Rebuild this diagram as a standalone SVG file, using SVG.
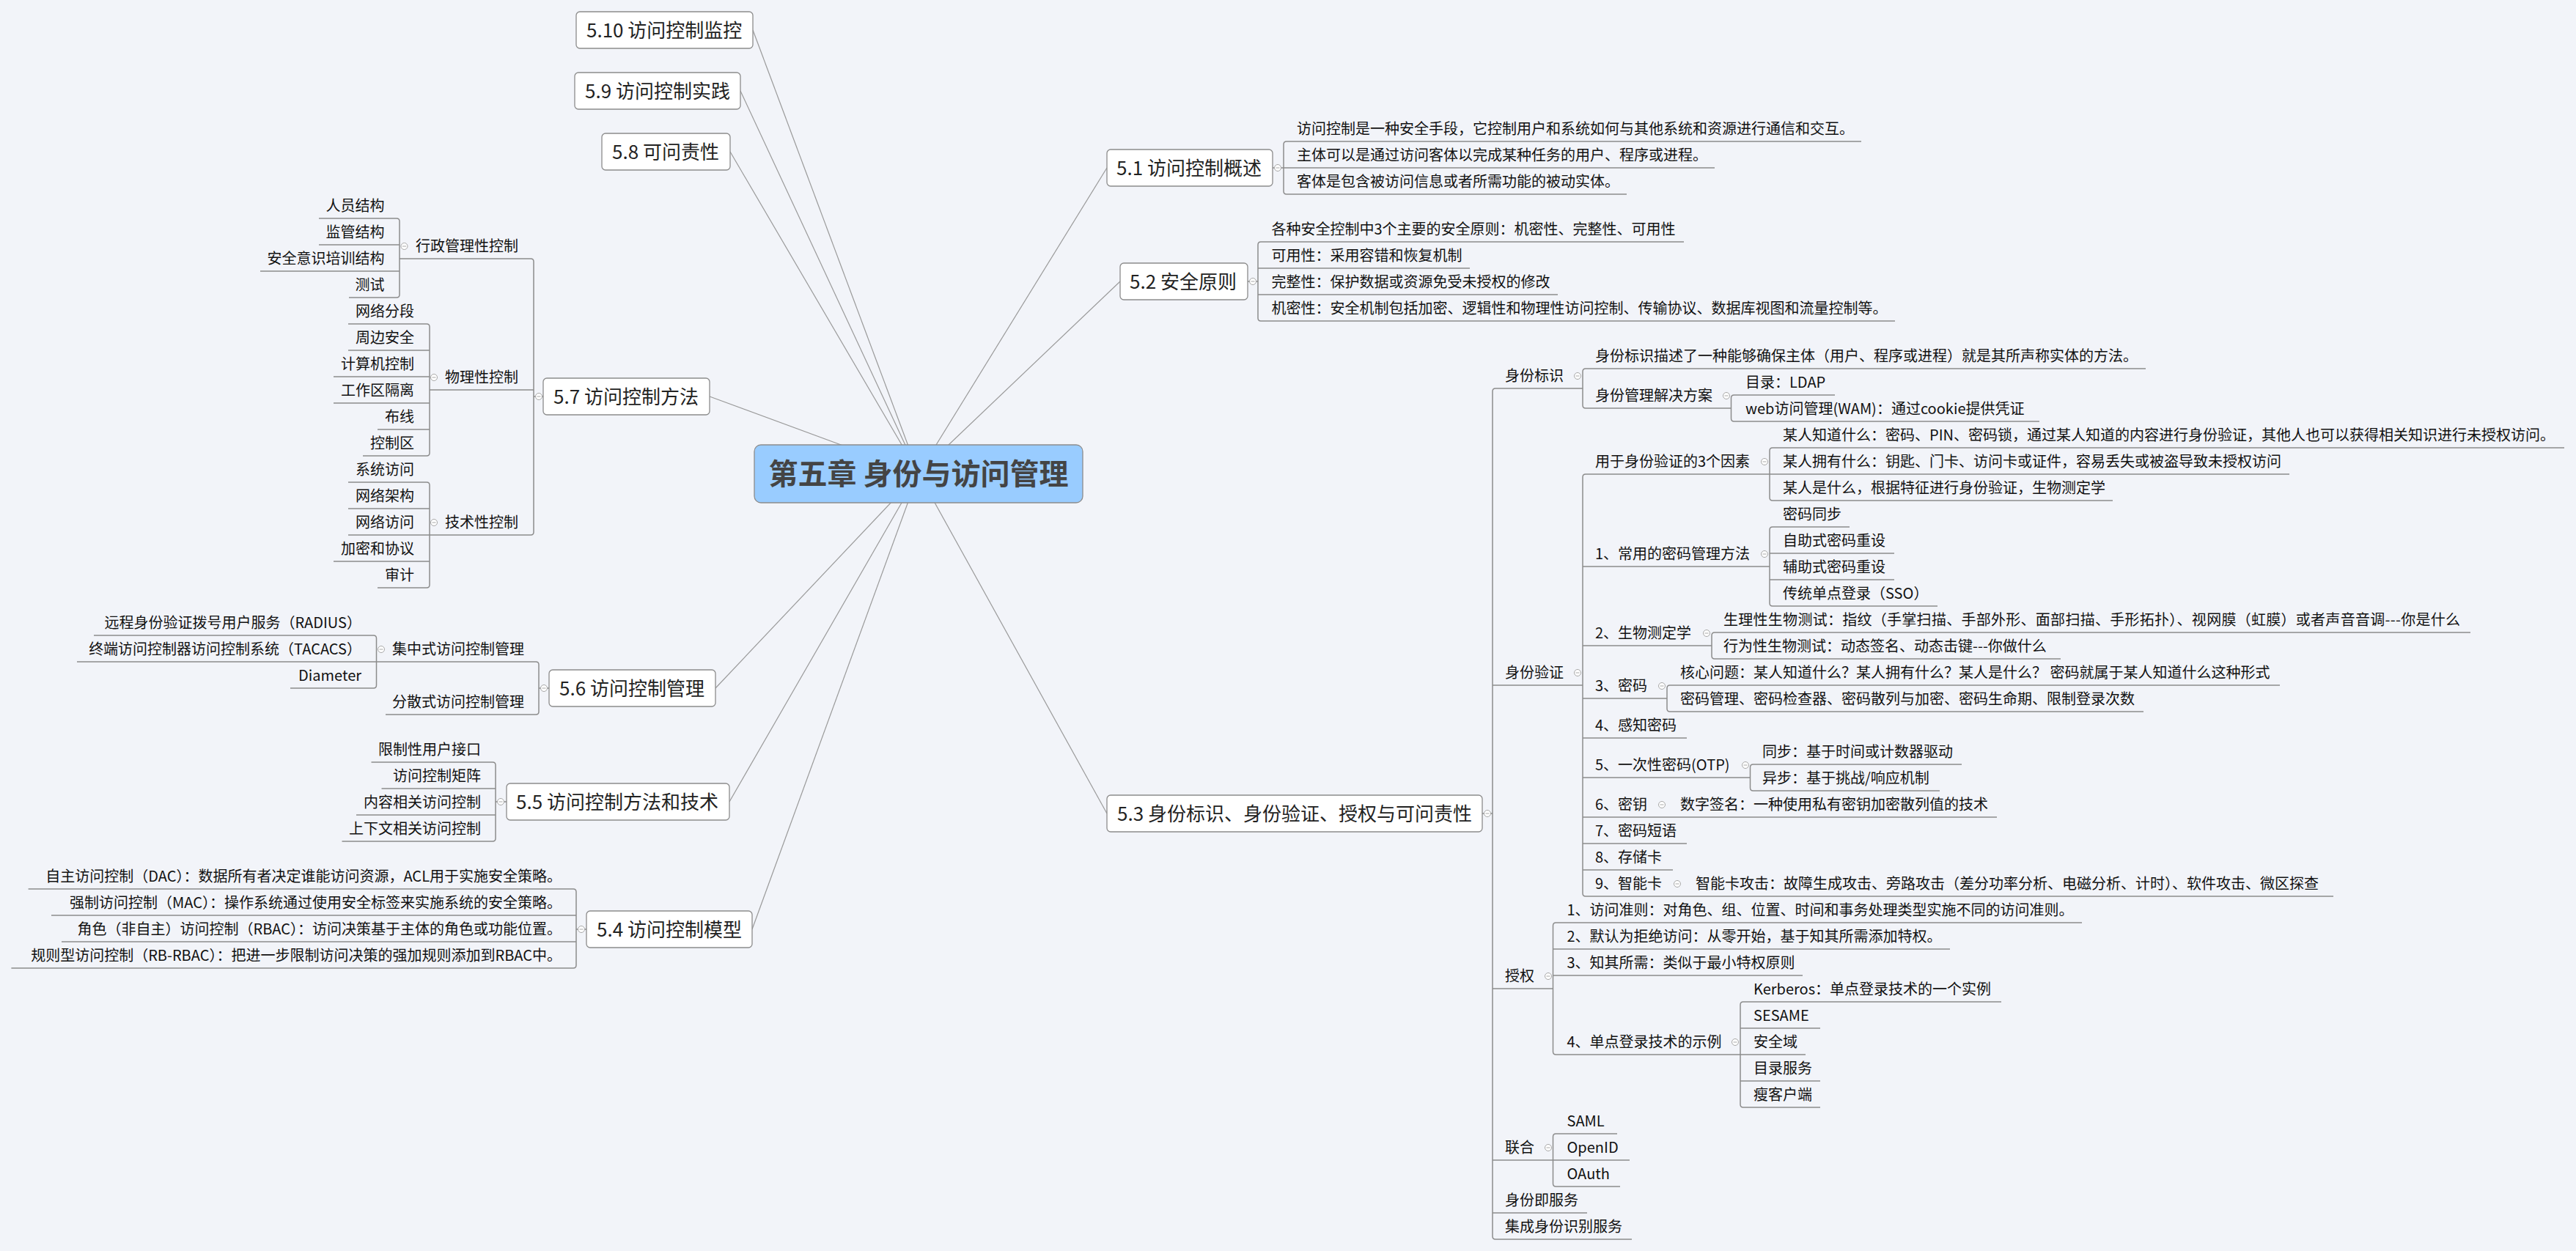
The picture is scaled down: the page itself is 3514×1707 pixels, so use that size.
<svg xmlns="http://www.w3.org/2000/svg" xmlns:xlink="http://www.w3.org/1999/xlink" width="3514" height="1707" viewBox="0 0 3514 1707">
<style>
text{font-family:"Noto Sans CJK SC","Noto Sans",sans-serif;}
.root{font-size:40px;font-weight:bold;fill:#444;text-anchor:middle}
.n1{font-size:26px;fill:#222}
.t{font-size:20px;fill:#111}
.e{text-anchor:end}
.box{fill:#fff;stroke:#8c8c8c;stroke-width:1.3}
.tree{fill:none;stroke:#8c8c8c;stroke-width:1.5}
.link{stroke:#9a9a9a;stroke-width:1.2;fill:none}
</style>
<defs>
<g id="col"><circle r="4.5" fill="#fff" stroke="#a8a8a8" stroke-width="1"/><path d="M-2.5 0H2.5" stroke="#a8a8a8" stroke-width="1"/></g>
</defs>
<rect width="3514" height="1707" fill="#f2f4f9"/>

<g id="connectors">
<g class="link">
<line x1="1253" y1="646" x2="1027" y2="41"/>
<line x1="1253" y1="646" x2="1010" y2="124"/>
<line x1="1253" y1="646" x2="996" y2="207"/>
<line x1="1253" y1="646" x2="968" y2="541"/>
<line x1="1253" y1="646" x2="976" y2="939"/>
<line x1="1253" y1="646" x2="995" y2="1094"/>
<line x1="1253" y1="646" x2="1026" y2="1268"/>
<line x1="1253" y1="646" x2="1510" y2="229"/>
<line x1="1253" y1="646" x2="1528" y2="384"/>
<line x1="1253" y1="646" x2="1510" y2="1110"/>
</g>
<g class="tree">
<path d="M741 541H728 M545 353H724Q728 353 728 357V726Q728 730 724 730H586 M728 532H586"/>
<path d="M435 298H541Q545 298 545 302V402Q545 406 541 406H476 M545 334H435 M545 370H355"/>
<path d="M475 442H582Q586 442 586 446V618Q586 622 582 622H495 M586 478H475 M586 514H455 M586 550H455 M586 586H515"/>
<path d="M475 658H582Q586 658 586 662V798Q586 802 582 802H515 M586 694H475 M586 730H475 M586 766H455"/>
<path d="M749 939H735 M513.5 903H731Q735 903 735 907V971Q735 975 731 975H526"/>
<path d="M128 867H509.5Q513.5 867 513.5 871V935Q513.5 939 509.5 939H396 M513.5 903H105"/>
<path d="M691 1094H676 M506.5 1040H672Q676 1040 676 1044V1144Q676 1148 672 1148H466.5 M676 1076H520.5 M676 1112H486"/>
<path d="M800 1268H786 M38.6 1213H782Q786 1213 786 1217V1317Q786 1321 782 1321H15.4 M786 1249H70 M786 1285H84"/>
<path d="M1736 229H1751 M2539 193H1755Q1751 193 1751 197V261Q1751 265 1755 265H2219 M1751 229H2339"/>
<path d="M1702 384H1716 M2297 330H1720Q1716 330 1716 334V434Q1716 438 1720 438H2585 M1716 366H2005 M1716 402H2125"/>
<path d="M2022 1110H2036 M2159 530H2040Q2036 530 2036 534V1687Q2036 1691 2040 1691H2226 M2036 935H2159 M2036 1349H2118.5 M2036 1583H2118.5 M2036 1655H2165"/>
<path d="M2927 503H2163Q2159 503 2159 507V553Q2159 557 2163 557H2361.5"/>
<path d="M2503 539H2365.5Q2361.5 539 2361.5 543V571Q2361.5 575 2365.5 575H2782"/>
<path d="M2414 647H2163Q2159 647 2159 651V1219Q2159 1223 2163 1223H3183 M2159 773H2414 M2159 881H2335 M2159 953H2274 M2159 1007H2301 M2159 1061H2387.5 M2159 1115H2724 M2159 1151H2301 M2159 1187H2282"/>
<path d="M3498 611H2418Q2414 611 2414 615V679Q2414 683 2418 683H2882 M2414 647H3123"/>
<path d="M2523 719H2418Q2414 719 2414 723V823Q2414 827 2418 827H2643 M2414 755H2584 M2414 791H2584"/>
<path d="M3370 863H2339Q2335 863 2335 867V895Q2335 899 2339 899H2811"/>
<path d="M3110 935H2278Q2274 935 2274 939V967Q2274 971 2278 971H2924"/>
<path d="M2676 1043H2391.5Q2387.5 1043 2387.5 1047V1075Q2387.5 1079 2391.5 1079H2646"/>
<path d="M2840 1259H2122.5Q2118.5 1259 2118.5 1263V1435Q2118.5 1439 2122.5 1439H2374 M2118.5 1295H2660 M2118.5 1331H2459"/>
<path d="M2730 1367H2378Q2374 1367 2374 1371V1507Q2374 1511 2378 1511H2483 M2374 1403H2483 M2374 1439H2463 M2374 1475H2483"/>
<path d="M2206 1547H2122.5Q2118.5 1547 2118.5 1551V1615Q2118.5 1619 2122.5 1619H2210 M2118.5 1583H2223"/>
</g>
<g id="collapse-icons">
<use xlink:href="#col" x="735" y="541"/>
<use xlink:href="#col" x="551.5" y="336"/>
<use xlink:href="#col" x="592" y="515"/>
<use xlink:href="#col" x="592" y="713"/>
<use xlink:href="#col" x="742" y="939"/>
<use xlink:href="#col" x="520" y="886"/>
<use xlink:href="#col" x="683" y="1094"/>
<use xlink:href="#col" x="793" y="1268"/>
<use xlink:href="#col" x="1743" y="229"/>
<use xlink:href="#col" x="1709" y="384"/>
<use xlink:href="#col" x="2029" y="1110"/>
<use xlink:href="#col" x="2152" y="513"/>
<use xlink:href="#col" x="2355" y="540"/>
<use xlink:href="#col" x="2152" y="918"/>
<use xlink:href="#col" x="2407" y="630"/>
<use xlink:href="#col" x="2407" y="756"/>
<use xlink:href="#col" x="2328" y="864"/>
<use xlink:href="#col" x="2267" y="936"/>
<use xlink:href="#col" x="2381" y="1044"/>
<use xlink:href="#col" x="2267" y="1098"/>
<use xlink:href="#col" x="2288" y="1206"/>
<use xlink:href="#col" x="2112" y="1332"/>
<use xlink:href="#col" x="2367" y="1422"/>
<use xlink:href="#col" x="2112" y="1566"/>
</g>
</g>

<g id="root"><rect x="1029" y="607" width="448" height="79" rx="9" fill="#99ccff" stroke="#8c8c8c" stroke-width="1.3"/><text class="root" x="1253" y="661">第五章 身份与访问管理</text></g>

<g id="n5-10"><rect class="box" x="786" y="16" width="241" height="50" rx="5"/><text class="n1" x="800" y="51">5.10 访问控制监控</text></g>
<g id="n5-9"><rect class="box" x="784" y="99" width="226" height="50" rx="5"/><text class="n1" x="798" y="134">5.9 访问控制实践</text></g>
<g id="n5-8"><rect class="box" x="821" y="182" width="175" height="50" rx="5"/><text class="n1" x="835" y="217">5.8 可问责性</text></g>
<g id="n5-7"><rect class="box" x="741" y="516" width="227" height="50" rx="5"/><text class="n1" x="755" y="551">5.7 访问控制方法</text></g>
<g id="n5-6"><rect class="box" x="749" y="914" width="227" height="50" rx="5"/><text class="n1" x="763" y="949">5.6 访问控制管理</text></g>
<g id="n5-5"><rect class="box" x="691" y="1069" width="304" height="50" rx="5"/><text class="n1" x="704" y="1104">5.5 访问控制方法和技术</text></g>
<g id="n5-4"><rect class="box" x="800" y="1243" width="226" height="50" rx="5"/><text class="n1" x="814" y="1278">5.4 访问控制模型</text></g>
<g id="n5-1"><rect class="box" x="1510" y="204" width="226" height="50" rx="5"/><text class="n1" x="1523" y="239">5.1 访问控制概述</text></g>
<g id="n5-2"><rect class="box" x="1528" y="359" width="174" height="50" rx="5"/><text class="n1" x="1541" y="394">5.2 安全原则</text></g>
<g id="n5-3"><rect class="box" x="1510" y="1085" width="512" height="50" rx="5"/><text class="n1" x="1524" y="1120">5.3 身份标识、身份验证、授权与可问责性</text></g>

<g id="n57-admin"><text class="t e" x="707" y="343">行政管理性控制</text></g>
<g id="n57-phys"><text class="t e" x="707" y="522">物理性控制</text></g>
<g id="n57-tech"><text class="t e" x="707" y="720">技术性控制</text></g>
<g id="n57-a1"><text class="t e" x="524.5" y="288">人员结构</text></g>
<g id="n57-a2"><text class="t e" x="524.5" y="324">监管结构</text></g>
<g id="n57-a3"><text class="t e" x="524.5" y="360">安全意识培训结构</text></g>
<g id="n57-a4"><text class="t e" x="524.5" y="396">测试</text></g>
<g id="n57-p1"><text class="t e" x="565" y="432">网络分段</text></g>
<g id="n57-p2"><text class="t e" x="565" y="468">周边安全</text></g>
<g id="n57-p3"><text class="t e" x="565" y="504">计算机控制</text></g>
<g id="n57-p4"><text class="t e" x="565" y="540">工作区隔离</text></g>
<g id="n57-p5"><text class="t e" x="565" y="576">布线</text></g>
<g id="n57-p6"><text class="t e" x="565" y="612">控制区</text></g>
<g id="n57-t1"><text class="t e" x="565" y="648">系统访问</text></g>
<g id="n57-t2"><text class="t e" x="565" y="684">网络架构</text></g>
<g id="n57-t3"><text class="t e" x="565" y="720">网络访问</text></g>
<g id="n57-t4"><text class="t e" x="565" y="756">加密和协议</text></g>
<g id="n57-t5"><text class="t e" x="565" y="792">审计</text></g>

<g id="n56-c"><text class="t e" x="715" y="893">集中式访问控制管理</text></g>
<g id="n56-d"><text class="t e" x="715" y="965">分散式访问控制管理</text></g>
<g id="n56-c1"><text class="t e" x="493" y="857">远程身份验证拨号用户服务（RADIUS）</text></g>
<g id="n56-c2"><text class="t e" x="493" y="893">终端访问控制器访问控制系统（TACACS）</text></g>
<g id="n56-c3"><text class="t e" x="493" y="929">Diameter</text></g>

<g id="n55-1"><text class="t e" x="656" y="1030">限制性用户接口</text></g>
<g id="n55-2"><text class="t e" x="656" y="1066">访问控制矩阵</text></g>
<g id="n55-3"><text class="t e" x="656" y="1102">内容相关访问控制</text></g>
<g id="n55-4"><text class="t e" x="656" y="1138">上下文相关访问控制</text></g>

<g id="n54-1"><text class="t e" x="766" y="1203">自主访问控制（DAC）：数据所有者决定谁能访问资源，ACL用于实施安全策略。</text></g>
<g id="n54-2"><text class="t e" x="766" y="1239">强制访问控制（MAC）：操作系统通过使用安全标签来实施系统的安全策略。</text></g>
<g id="n54-3"><text class="t e" x="766" y="1275">角色（非自主）访问控制（RBAC）：访问决策基于主体的角色或功能位置。</text></g>
<g id="n54-4"><text class="t e" x="766" y="1311">规则型访问控制（RB-RBAC）：把进一步限制访问决策的强加规则添加到RBAC中。</text></g>

<g id="n51-1"><text class="t" x="1769" y="183">访问控制是一种安全手段，它控制用户和系统如何与其他系统和资源进行通信和交互。</text></g>
<g id="n51-2"><text class="t" x="1769" y="219">主体可以是通过访问客体以完成某种任务的用户、程序或进程。</text></g>
<g id="n51-3"><text class="t" x="1769" y="255">客体是包含被访问信息或者所需功能的被动实体。</text></g>

<g id="n52-1"><text class="t" x="1734.5" y="320">各种安全控制中3个主要的安全原则：机密性、完整性、可用性</text></g>
<g id="n52-2"><text class="t" x="1734.5" y="356">可用性：采用容错和恢复机制</text></g>
<g id="n52-3"><text class="t" x="1734.5" y="392">完整性：保护数据或资源免受未授权的修改</text></g>
<g id="n52-4"><text class="t" x="1734.5" y="428">机密性：安全机制包括加密、逻辑性和物理性访问控制、传输协议、数据库视图和流量控制等。</text></g>

<g id="n53-id"><text class="t" x="2053" y="520">身份标识</text></g>
<g id="n53-auth"><text class="t" x="2053" y="925">身份验证</text></g>
<g id="n53-authz"><text class="t" x="2053" y="1339">授权</text></g>
<g id="n53-fed"><text class="t" x="2053" y="1573">联合</text></g>
<g id="n53-idaas"><text class="t" x="2053" y="1645">身份即服务</text></g>
<g id="n53-iis"><text class="t" x="2053" y="1681">集成身份识别服务</text></g>

<g id="n53-id1"><text class="t" x="2176" y="493">身份标识描述了一种能够确保主体（用户、程序或进程）就是其所声称实体的方法。</text></g>
<g id="n53-id2"><text class="t" x="2176" y="547">身份管理解决方案</text></g>
<g id="n53-id2a"><text class="t" x="2381" y="529">目录：LDAP</text></g>
<g id="n53-id2b"><text class="t" x="2381" y="565">web访问管理(WAM)：通过cookie提供凭证</text></g>

<g id="n53-f"><text class="t" x="2176" y="637">用于身份验证的3个因素</text></g>
<g id="n53-f1"><text class="t" x="2432" y="601">某人知道什么：密码、PIN、密码锁，通过某人知道的内容进行身份验证，其他人也可以获得相关知识进行未授权访问。</text></g>
<g id="n53-f2"><text class="t" x="2432" y="637">某人拥有什么：钥匙、门卡、访问卡或证件，容易丢失或被盗导致未授权访问</text></g>
<g id="n53-f3"><text class="t" x="2432" y="673">某人是什么，根据特征进行身份验证，生物测定学</text></g>
<g id="n53-a1"><text class="t" x="2176" y="763">1、常用的密码管理方法</text></g>
<g id="n53-a1a"><text class="t" x="2432" y="709">密码同步</text></g>
<g id="n53-a1b"><text class="t" x="2432" y="745">自助式密码重设</text></g>
<g id="n53-a1c"><text class="t" x="2432" y="781">辅助式密码重设</text></g>
<g id="n53-a1d"><text class="t" x="2432" y="817">传统单点登录（SSO）</text></g>
<g id="n53-a2"><text class="t" x="2176" y="871">2、生物测定学</text></g>
<g id="n53-a2a"><text class="t" x="2351" y="853" textLength="1005" lengthAdjust="spacing">生理性生物测试：指纹（手掌扫描、手部外形、面部扫描、手形拓扑）、视网膜（虹膜）或者声音音调---你是什么</text></g>
<g id="n53-a2b"><text class="t" x="2351" y="889">行为性生物测试：动态签名、动态击键---你做什么</text></g>
<g id="n53-a3"><text class="t" x="2176" y="943">3、密码</text></g>
<g id="n53-a3a"><text class="t" x="2292" y="925">核心问题：某人知道什么？某人拥有什么？某人是什么？ 密码就属于某人知道什么这种形式</text></g>
<g id="n53-a3b"><text class="t" x="2292" y="961">密码管理、密码检查器、密码散列与加密、密码生命期、限制登录次数</text></g>
<g id="n53-a4"><text class="t" x="2176" y="997">4、感知密码</text></g>
<g id="n53-a5"><text class="t" x="2176" y="1051">5、一次性密码(OTP)</text></g>
<g id="n53-a5a"><text class="t" x="2404" y="1033">同步：基于时间或计数器驱动</text></g>
<g id="n53-a5b"><text class="t" x="2404" y="1069">异步：基于挑战/响应机制</text></g>
<g id="n53-a6"><text class="t" x="2176" y="1105">6、密钥</text></g>
<g id="n53-a6a"><text class="t" x="2292" y="1105">数字签名：一种使用私有密钥加密散列值的技术</text></g>
<g id="n53-a7"><text class="t" x="2176" y="1141">7、密码短语</text></g>
<g id="n53-a8"><text class="t" x="2176" y="1177">8、存储卡</text></g>
<g id="n53-a9"><text class="t" x="2176" y="1213">9、智能卡</text></g>
<g id="n53-a9a"><text class="t" x="2313" y="1213">智能卡攻击：故障生成攻击、旁路攻击（差分功率分析、电磁分析、计时）、软件攻击、微区探查</text></g>

<g id="n53-z1"><text class="t" x="2137.5" y="1249">1、访问准则：对角色、组、位置、时间和事务处理类型实施不同的访问准则。</text></g>
<g id="n53-z2"><text class="t" x="2137.5" y="1285">2、默认为拒绝访问：从零开始，基于知其所需添加特权。</text></g>
<g id="n53-z3"><text class="t" x="2137.5" y="1321">3、知其所需：类似于最小特权原则</text></g>
<g id="n53-z4"><text class="t" x="2137.5" y="1429">4、单点登录技术的示例</text></g>
<g id="n53-z4a"><text class="t" x="2392" y="1357">Kerberos：单点登录技术的一个实例</text></g>
<g id="n53-z4b"><text class="t" x="2392" y="1393">SESAME</text></g>
<g id="n53-z4c"><text class="t" x="2392" y="1429">安全域</text></g>
<g id="n53-z4d"><text class="t" x="2392" y="1465">目录服务</text></g>
<g id="n53-z4e"><text class="t" x="2392" y="1501">瘦客户端</text></g>

<g id="n53-fed1"><text class="t" x="2137.5" y="1537">SAML</text></g>
<g id="n53-fed2"><text class="t" x="2137.5" y="1573">OpenID</text></g>
<g id="n53-fed3"><text class="t" x="2137.5" y="1609">OAuth</text></g>
</svg>
